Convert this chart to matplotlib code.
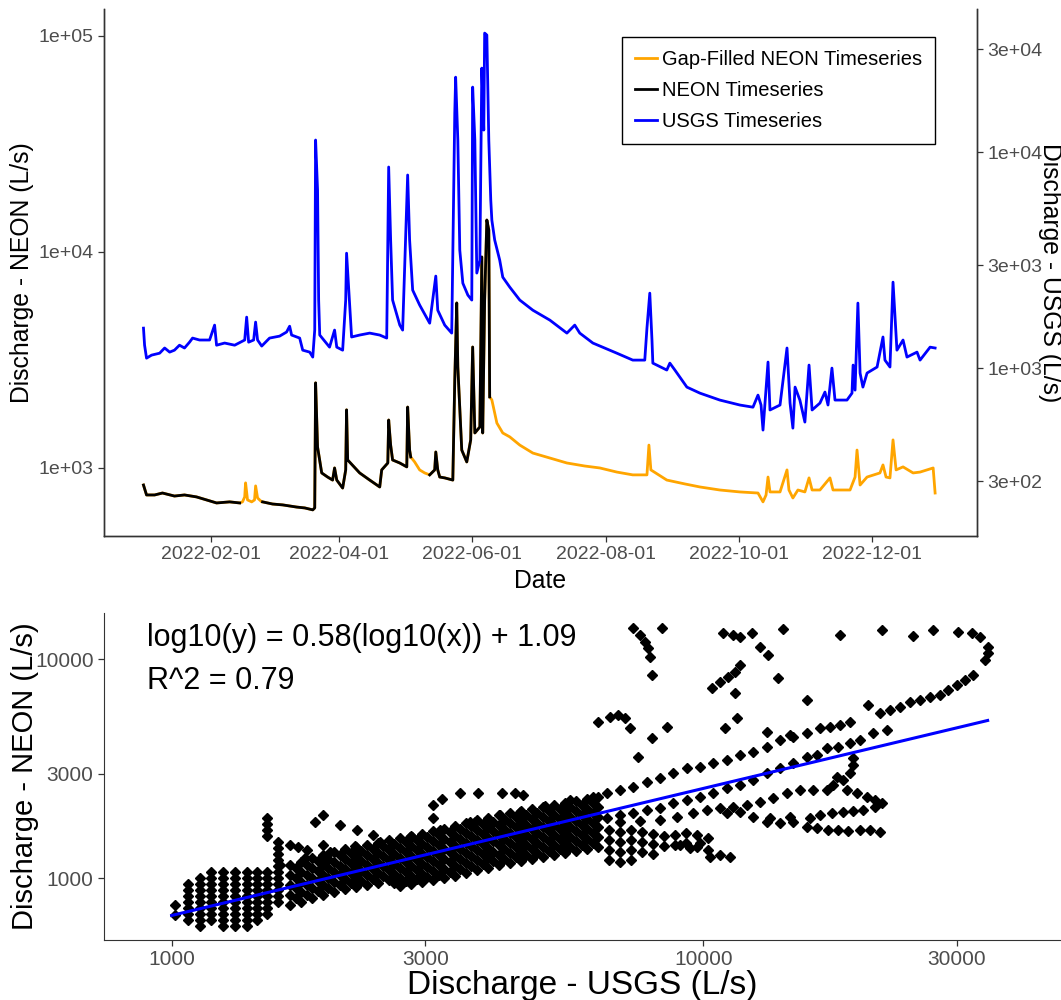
import numpy as np
import pandas as pd
import matplotlib
matplotlib.use("Agg")
import matplotlib.pyplot as plt
import matplotlib.dates as mdates
from matplotlib.ticker import FixedLocator, FixedFormatter, NullLocator

# ---- data (log10 of discharge, L/s) ----
# days since 2022-01-01
neon_day = [0.2, 1.6, 5.3, 8.9, 14.4, 19.0, 24.5, 29.1, 33.7, 39.7, 44.3,
            45.6, 46.6, 47.0, 47.9, 49.8, 51.1, 51.6, 52.5, 54.4,
            54.8, 59.4, 64.0, 70.4, 74.1, 77.8, 78.7, 79.1, 79.6, 80.0, 81.9, 84.6, 86.9, 87.8, 88.8, 91.5,
            92.9, 93.3, 93.8, 99.3, 103.9, 108.5, 109.4, 112.2, 112.6, 113.5, 114.4, 117.7, 120.9, 121.3,
            122.2, 122.7,
            124.5, 126.8, 129.1,
            131.4, 133.7, 134.2, 135.1, 136.0, 138.3, 142.0, 142.9, 143.8, 144.3, 146.1, 148.4, 150.2, 151.1,
            152.1, 154.4, 155.3, 155.7, 156.6, 157.6, 158.5, 158.9,
            159.9, 162.2, 164.9, 168.1, 172.7, 178.7, 186.5, 194.3, 202.5, 209.4, 217.2, 224.5, 231.0, 231.9,
            232.8, 240.1, 248.4, 255.3, 264.4, 273.6, 281.9, 284.2, 285.6, 286.5, 287.4, 292.0, 295.2, 296.1,
            297.9, 300.2, 303.4, 305.3, 306.7, 310.3, 314.9, 316.3, 324.1, 326.4, 327.3, 328.7, 331.9, 337.8,
            339.2, 340.6, 342.4, 343.8, 345.2, 348.4, 353.0, 356.2, 359.4, 362.2, 363.1]
neon_log10 = [2.921, 2.875, 2.875, 2.884, 2.870, 2.875, 2.866, 2.852, 2.838, 2.843, 2.838,
              2.843, 2.866, 2.931, 2.852, 2.843, 2.852, 2.917, 2.861, 2.843,
              2.843, 2.833, 2.829, 2.819, 2.815, 2.806, 2.815, 3.394, 3.222, 3.097, 2.977, 2.958, 2.944, 3.000,
              2.944, 2.907, 2.991, 3.269, 3.037, 2.977, 2.944, 2.912, 2.991, 3.023, 3.222, 3.106, 3.037, 3.023,
              3.005, 3.282, 3.083, 3.051,
              3.028, 2.991, 2.977,
              2.968, 2.991, 3.074, 2.991, 2.958, 2.954, 2.944, 3.407, 3.764, 3.468, 3.083, 3.028, 3.130, 3.560,
              3.162, 3.190, 3.977, 3.162, 3.778, 4.148, 4.102, 3.329,
              3.315, 3.208, 3.162, 3.144, 3.106, 3.069, 3.046, 3.023, 3.009, 3.000, 2.981, 2.968, 2.968, 3.106,
              2.991, 2.944, 2.926, 2.912, 2.898, 2.889, 2.884, 2.843, 2.875, 2.958, 2.889, 2.889, 2.991, 2.898,
              2.861, 2.898, 2.889, 2.954, 2.898, 2.898, 2.954, 2.898, 2.898, 2.958, 3.083, 2.921, 2.958, 2.977,
              3.014, 2.958, 2.954, 3.130, 2.991, 3.005, 2.977, 2.981, 2.991, 3.000, 2.884]
# periods where the NEON record was gap-filled (days since 2022-01-01)
gap_start = [45.0, 123.5, 159.5]
gap_end = [54.6, 130.0, 366.0]

usgs_day = [0.2, 0.7, 1.6, 3.9, 7.6, 9.9, 12.2, 14.4, 16.7, 19.0,
            21.3, 22.7, 25.9, 30.5, 32.8, 33.7, 37.4, 42.0, 46.6, 47.5,
            48.4, 50.7, 51.6, 52.5, 54.4, 58.0, 62.6, 65.8, 67.2, 68.1,
            71.8, 73.2, 76.4, 77.8, 78.7, 79.1, 80.0, 80.5, 81.0, 85.5,
            87.8, 88.8, 91.5, 92.9, 93.3, 94.3, 95.6, 99.3, 103.9, 108.5,
            111.7, 112.6, 113.5, 114.4, 117.7, 119.0, 121.3, 122.2, 123.6, 126.8,
            131.4, 134.2, 135.1, 138.3, 141.5, 142.9, 143.3, 144.3, 145.2, 146.6,
            148.9, 150.7, 151.1, 152.1, 153.0, 154.4, 155.3, 156.2, 156.6, 157.6,
            158.5, 159.4, 159.9, 161.2, 163.5, 164.9, 168.1, 172.7, 178.7, 186.5,
            194.3, 197.9, 200.2, 206.2, 217.2, 224.5, 230.0, 231.0, 232.3, 233.3,
            233.7, 240.1, 241.5, 243.8, 249.3, 255.3, 264.4, 273.6, 279.6, 281.9,
            283.3, 284.2, 286.5, 287.4, 292.0, 295.2, 296.6, 297.9, 298.9, 301.1,
            303.4, 305.3, 306.7, 310.3, 312.6, 314.0, 315.8, 317.2, 322.7, 325.0,
            325.5, 326.4, 327.7, 328.7, 330.0, 331.9, 336.5, 339.2, 340.1, 342.4,
            343.8, 345.6, 348.4, 350.2, 354.8, 356.2, 360.8, 363.1]
usgs_log10 = [3.185, 3.106, 3.046, 3.060, 3.069, 3.093, 3.074, 3.083, 3.106, 3.093,
              3.120, 3.139, 3.130, 3.130, 3.199, 3.106, 3.116, 3.106, 3.130, 3.236,
              3.120, 3.130, 3.213, 3.130, 3.102, 3.139, 3.148, 3.167, 3.194, 3.153,
              3.139, 3.083, 3.074, 3.051, 3.176, 4.056, 3.824, 3.315, 3.153, 3.097,
              3.176, 3.097, 3.083, 3.315, 3.532, 3.361, 3.144, 3.153, 3.162, 3.153,
              3.139, 3.931, 3.593, 3.315, 3.199, 3.176, 3.894, 3.593, 3.361, 3.292,
              3.208, 3.426, 3.268, 3.199, 3.162, 4.181, 4.347, 4.056, 3.546, 3.393,
              3.338, 3.315, 4.301, 4.056, 3.440, 3.500, 4.389, 4.102, 4.551, 4.542,
              4.056, 3.778, 3.685, 3.593, 3.500, 3.421, 3.375, 3.315, 3.268, 3.222,
              3.162, 3.199, 3.162, 3.116, 3.069, 3.037, 3.037, 3.185, 3.347, 3.130,
              3.023, 2.991, 3.023, 2.991, 2.912, 2.884, 2.852, 2.829, 2.819, 2.875,
              2.829, 2.713, 3.028, 2.806, 2.829, 3.093, 2.838, 2.722, 2.912, 2.852,
              2.750, 3.014, 2.806, 2.838, 2.889, 2.829, 3.000, 2.852, 2.852, 2.884,
              3.014, 2.898, 3.301, 2.977, 2.912, 2.977, 3.005, 3.144, 3.037, 3.005,
              3.398, 3.083, 3.130, 3.051, 3.074, 3.037, 3.097, 3.093]

# ---- paired observations for the scatter (log10 L/s) ----
# low-flow stacks: one USGS value per stack, NEON values in each stack
stack_usgs_log10 = [3.006, 3.031, 3.053, 3.074, 3.097, 3.119, 3.142, 3.161, 3.179, 3.200]
stack_neon_log10 = [
    [2.878, 2.833],
    [2.974, 2.947, 2.919, 2.892, 2.864, 2.837, 2.810],
    [3.001, 2.974, 2.947, 2.919, 2.892, 2.864, 2.837, 2.810, 2.783],
    [3.029, 3.001, 2.974, 2.947, 2.919, 2.892, 2.864, 2.837, 2.810],
    [3.029, 3.001, 2.974, 2.947, 2.919, 2.892, 2.864, 2.837, 2.810, 2.783],
    [3.029, 3.001, 2.974, 2.947, 2.919, 2.892, 2.864, 2.837, 2.810, 2.783],
    [3.029, 3.001, 2.974, 2.947, 2.919, 2.892, 2.864, 2.837, 2.810, 2.783],
    [3.029, 3.001, 2.974, 2.947, 2.919, 2.892, 2.864, 2.837, 2.810],
    [3.275, 3.248, 3.221, 3.193, 3.029, 3.001, 2.974, 2.947, 2.919, 2.892, 2.864, 2.837],
    [3.166, 3.138, 3.111, 3.084, 3.056, 3.029, 3.001, 2.974, 2.947, 2.919, 2.892],
]
# main band (rising limb), stacked the same way
band_usgs_log10 = [3.223, 3.243, 3.264, 3.285, 3.305, 3.326, 3.347, 3.367, 3.388, 3.409,
                   3.429, 3.450, 3.471, 3.492, 3.512, 3.533, 3.554, 3.574, 3.595, 3.616,
                   3.636, 3.657, 3.678, 3.699, 3.719, 3.740, 3.761, 3.781, 3.802,
                   3.823, 3.843, 3.864, 3.885, 3.905, 3.926, 3.947, 3.967, 3.988, 4.009,
                   3.233, 3.254, 3.275, 3.295, 3.316, 3.337, 3.357, 3.378, 3.398, 3.419,
                   3.440, 3.461, 3.481, 3.502, 3.523, 3.543, 3.564, 3.585, 3.605, 3.626,
                   3.647, 3.667, 3.688, 3.709, 3.730, 3.750, 3.771, 3.792]
band_neon_log10 = [
    [3.061, 3.015, 2.970, 2.924, 2.878], [3.074, 3.029, 2.983, 2.938, 2.892],
    [3.093, 3.047, 3.001, 2.956, 2.910], [3.106, 3.061, 3.015, 2.970, 2.924],
    [3.120, 3.074, 3.029, 2.983, 2.938], [3.134, 3.088, 3.043, 2.997, 2.951],
    [3.143, 3.097, 3.052, 3.006, 2.960], [3.152, 3.106, 3.061, 3.015, 2.970],
    [3.161, 3.116, 3.070, 3.024, 2.979], [3.175, 3.129, 3.084, 3.038, 2.992],
    [3.184, 3.138, 3.093, 3.047, 3.001, 2.965], [3.193, 3.147, 3.102, 3.056, 3.011, 2.974],
    [3.202, 3.157, 3.111, 3.065, 3.020, 2.983], [3.216, 3.170, 3.125, 3.079, 3.033, 2.992],
    [3.225, 3.180, 3.134, 3.088, 3.043, 3.001], [3.239, 3.193, 3.147, 3.102, 3.056, 3.011],
    [3.253, 3.207, 3.161, 3.116, 3.070, 3.024], [3.266, 3.221, 3.175, 3.129, 3.084, 3.038],
    [3.275, 3.230, 3.184, 3.138, 3.093, 3.047], [3.289, 3.243, 3.198, 3.152, 3.106, 3.061],
    [3.298, 3.253, 3.207, 3.161, 3.116, 3.070], [3.307, 3.262, 3.216, 3.170, 3.125, 3.079],
    [3.316, 3.271, 3.225, 3.180, 3.134, 3.088], [3.326, 3.280, 3.234, 3.189, 3.143, 3.097],
    [3.335, 3.289, 3.243, 3.198, 3.152, 3.106], [3.344, 3.298, 3.253, 3.207, 3.161, 3.116],
    [3.353, 3.307, 3.262, 3.216, 3.170, 3.125], [3.362, 3.316, 3.271, 3.225, 3.180, 3.134],
    [3.371, 3.326, 3.280, 3.234, 3.189, 3.143],
    [3.221, 3.175, 3.129, 3.084], [3.211, 3.166, 3.120, 3.074], [3.221, 3.175, 3.129, 3.084],
    [3.211, 3.166, 3.120], [3.202, 3.157, 3.111], [3.193, 3.147], [3.198, 3.152],
    [3.207, 3.161], [3.198, 3.143], [3.184, 3.129],
    [3.045, 3.000, 2.954, 2.908], [3.061, 3.015, 2.970, 2.924],
    [3.077, 3.031, 2.986, 2.940], [3.090, 3.045, 3.000, 2.954],
    [3.104, 3.058, 3.013, 2.967], [3.115, 3.070, 3.024, 2.979],
    [3.125, 3.079, 3.033, 2.988], [3.134, 3.088, 3.043, 2.997],
    [3.145, 3.100, 3.054, 3.008], [3.156, 3.111, 3.065, 3.020, 2.980],
    [3.166, 3.120, 3.075, 3.029, 2.988], [3.175, 3.129, 3.084, 3.038, 2.997],
    [3.186, 3.141, 3.095, 3.050, 3.007], [3.198, 3.152, 3.107, 3.061, 3.017],
    [3.209, 3.164, 3.118, 3.073, 3.028], [3.223, 3.177, 3.132, 3.086, 3.041],
    [3.237, 3.191, 3.145, 3.100, 3.054], [3.248, 3.202, 3.157, 3.111, 3.066],
    [3.259, 3.214, 3.168, 3.122, 3.077], [3.271, 3.225, 3.180, 3.134, 3.088],
    [3.280, 3.234, 3.189, 3.143, 3.097], [3.289, 3.243, 3.198, 3.152, 3.107],
    [3.298, 3.253, 3.207, 3.161, 3.116], [3.307, 3.262, 3.216, 3.171, 3.125],
    [3.317, 3.271, 3.225, 3.180, 3.134], [3.326, 3.280, 3.234, 3.189, 3.143],
    [3.335, 3.289, 3.244, 3.198, 3.152], [3.344, 3.298, 3.253, 3.207, 3.162],
]
# storm tracks and loops (paired values)
track_usgs_log10 = [
    3.204, 3.251, 3.298, 3.345, 3.392, 3.448, 3.505, 3.561, 3.618, 3.655,
    3.702, 3.749, 3.792, 3.843, 3.894, 3.943, 3.994, 4.044, 4.093, 4.144,
    4.195, 4.238, 4.276, 4.310, 4.332, 4.370, 4.407, 4.445, 4.460, 4.477,
    4.492, 4.507, 4.530, 4.535, 4.535, 4.520, 4.505, 4.479, 4.432, 4.394,
    4.336, 4.257, 4.150,
    3.819, 3.868, 3.918, 3.969, 4.018, 4.069, 4.120, 4.169, 4.219, 4.257,
    4.351, 4.389, 4.427,
    3.819, 3.868, 3.918, 3.969, 4.018, 4.069, 4.120, 4.169, 4.214, 4.253, 4.295, 4.345,
    3.843, 3.894, 3.943, 3.994, 4.044, 4.093, 4.144, 4.195, 4.232, 4.276, 4.319,
    3.843, 3.918, 3.981, 4.032, 4.082, 4.131, 4.182, 4.206,
    3.881, 3.950, 4.007, 4.056, 4.106, 4.157,
    4.044, 4.069, 4.093, 4.120, 4.144, 4.169, 4.195, 4.214, 4.234, 4.253,
    4.272, 4.295, 4.313, 4.332,
    4.125, 4.163, 4.200, 4.219, 4.242, 4.263, 4.282, 4.300, 4.323, 4.336,
    4.323, 4.308, 4.289, 4.270, 4.244, 4.232, 4.251, 4.263, 4.276, 4.282, 4.282,
    4.013, 4.032, 4.050, 3.956, 3.975, 3.994]
track_neon_log10 = [
    3.061, 3.093, 3.120, 3.147, 3.166, 3.189, 3.221, 3.257, 3.289, 3.303,
    3.330, 3.358, 3.371, 3.403, 3.440, 3.481, 3.508, 3.540, 3.577, 3.631,
    3.663, 3.691, 3.714, 3.791, 3.755, 3.783, 3.814, 3.837, 3.860, 3.883,
    3.906, 3.929, 3.997, 4.029, 4.056, 4.102, 4.120, 4.125, 4.134, 4.106,
    4.134, 4.111, 4.138,
    3.390, 3.417, 3.458, 3.504, 3.526, 3.563, 3.600, 3.645, 3.686, 3.700,
    3.769, 3.805, 3.828,
    3.275, 3.298, 3.321, 3.358, 3.390, 3.426, 3.481, 3.526, 3.563, 3.600, 3.631, 3.677,
    3.289, 3.312, 3.344, 3.371, 3.412, 3.449, 3.504, 3.554, 3.595, 3.618, 3.663,
    3.257, 3.266, 3.298, 3.321, 3.335, 3.367, 3.403, 3.403,
    3.262, 3.280, 3.312, 3.326, 3.348, 3.390,
    3.298, 3.303, 3.280, 3.257, 3.252, 3.257, 3.234, 3.230, 3.221, 3.221,
    3.216, 3.221, 3.221, 3.211,
    3.275, 3.280, 3.275, 3.289, 3.298, 3.303, 3.307, 3.312, 3.326, 3.344,
    3.358, 3.371, 3.390, 3.403, 3.426, 3.403, 3.463, 3.449, 3.481, 3.517, 3.549,
    3.097, 3.106, 3.097, 3.152, 3.138, 3.161]
# isolated points above the band
sparse_usgs_log10 = [
    3.223, 3.238, 3.255, 3.270, 3.285, 3.285, 3.317, 3.349, 3.379, 3.411, 3.452,
    3.492, 3.492, 3.508, 3.542, 3.576, 3.621, 3.646, 3.661, 3.571, 3.627,
    3.802, 3.824, 3.840, 3.853, 3.862, 3.877, 3.903, 3.931, 3.868, 3.881,
    3.890, 3.896, 3.900, 3.903, 3.922, 4.016, 4.032, 4.046, 4.059, 4.069,
    4.059, 4.063, 4.041, 4.037, 4.056, 4.069, 4.091, 4.106, 4.122, 4.141,
    4.195, 4.120, 4.163]
sparse_neon_log10 = [
    3.152, 3.143, 3.129, 3.257, 3.289, 3.152, 3.243, 3.221, 3.198, 3.143, 3.189,
    3.335, 3.275, 3.362, 3.390, 3.390, 3.390, 3.390, 3.381, 3.257, 3.266,
    3.714, 3.737, 3.746, 3.732, 3.686, 3.554, 3.641, 3.691, 4.143, 4.111,
    4.079, 4.051, 4.010, 3.929, 4.143, 3.869, 3.896, 3.920, 3.942, 3.974,
    3.846, 3.732, 3.686, 4.120, 4.111, 4.102, 4.120, 4.056, 4.019, 3.915,
    3.814, 3.668, 3.654]

fit_slope = 0.58
fit_intercept = 1.09
fit_r2 = 0.79
sec_factor = 2.9  # NEON axis = USGS axis * 2.9

plt.rcParams["font.family"] = ["Liberation Sans", "DejaVu Sans"]
tick_grey = "#4D4D4D"
line_grey = "#333333"

base = pd.Timestamp("2022-01-01")
neon_t = base + pd.to_timedelta(np.array(neon_day), unit="D")
usgs_t = base + pd.to_timedelta(np.array(usgs_day), unit="D")
neon = 10 ** np.array(neon_log10)
usgs = 10 ** np.array(usgs_log10)

d = np.array(neon_day)
filled = np.zeros(len(d), dtype=bool)
for s, e in zip(gap_start, gap_end):
    filled |= (d >= s) & (d <= e)
neon_measured = np.where(filled, np.nan, neon)

fig = plt.figure(figsize=(10.61, 10), dpi=100)

# ---------- top panel: timeseries ----------
ax = fig.add_axes([104 / 1061, 1 - 536 / 1000, 873 / 1061, 527 / 1000])
ax2 = ax.twinx()
l1, = ax.plot(neon_t, neon, color="orange", lw=2.0, label="Gap-Filled NEON Timeseries")
l2, = ax.plot(neon_t, neon_measured, color="black", lw=2.0, label="NEON Timeseries")
l3, = ax2.plot(usgs_t, usgs, color="blue", lw=2.0, label="USGS Timeseries")

ax.set_yscale("log")
ax2.set_yscale("log")
ylo, yhi = 10 ** 2.685, 10 ** 5.125
ax.set_ylim(ylo, yhi)
ax2.set_ylim(ylo / sec_factor, yhi / sec_factor)
ax.set_xlim(base - pd.Timedelta(days=17.9), base + pd.Timedelta(days=382.3))

ax.yaxis.set_major_locator(FixedLocator([1e3, 1e4, 1e5]))
ax.yaxis.set_major_formatter(FixedFormatter(["1e+03", "1e+04", "1e+05"]))
ax.yaxis.set_minor_locator(NullLocator())
ax2.yaxis.set_major_locator(FixedLocator([300, 1000, 3000, 10000, 30000]))
ax2.yaxis.set_major_formatter(FixedFormatter(["3e+02", "1e+03", "3e+03", "1e+04", "3e+04"]))
ax2.yaxis.set_minor_locator(NullLocator())

date_ticks = pd.to_datetime(["2022-02-01", "2022-04-01", "2022-06-01",
                             "2022-08-01", "2022-10-01", "2022-12-01"])
ax.xaxis.set_major_locator(FixedLocator(mdates.date2num(date_ticks)))
ax.xaxis.set_major_formatter(mdates.DateFormatter("%Y-%m-%d"))

for a in (ax, ax2):
    a.spines["top"].set_visible(False)
    for sp in a.spines.values():
        sp.set_color(line_grey)
        sp.set_linewidth(1.0)
    a.tick_params(colors=line_grey, labelcolor=tick_grey, labelsize=14, length=4, width=0.9)

ax.set_xlabel("Date", fontsize=17.8, va="center")
ax.xaxis.set_label_coords(0.5, -0.085)
ax.set_ylabel("Discharge - NEON (L/s)", fontsize=17.8, va="center")
ax.yaxis.set_label_coords(-0.094, 0.5)
ax2.set_ylabel("Discharge - USGS (L/s)", fontsize=17.8, rotation=270, va="center")
ax2.yaxis.set_label_coords(1.084, 0.5)

leg = ax2.legend([l1, l2, l3], [l1.get_label(), l2.get_label(), l3.get_label()],
                 loc="upper left", bbox_to_anchor=(622 / 1061, 1 - 37 / 1000),
                 bbox_transform=fig.transFigure, borderaxespad=0, fontsize=14.5,
                 frameon=True, fancybox=False, edgecolor="black", framealpha=1,
                 handlelength=1.1, handletextpad=0.25, labelspacing=0.6, borderpad=0.65)
leg.get_frame().set_linewidth(1.0)

# ---------- bottom panel: USGS vs NEON ----------
sx, sy = [], []
for xv, ys in zip(stack_usgs_log10 + band_usgs_log10, stack_neon_log10 + band_neon_log10):
    sx += [xv] * len(ys)
    sy += ys
sx += track_usgs_log10 + sparse_usgs_log10
sy += track_neon_log10 + sparse_neon_log10
px = 10 ** np.array(sx)
py = 10 ** np.array(sy)

bx = fig.add_axes([104 / 1061, 1 - 940 / 1000, 957 / 1061, 327 / 1000])
bx.plot(px, py, linestyle="none", marker="D", ms=5.0, color="black")

fx = np.array([1000, px.max()])
fy = 10 ** (fit_slope * np.log10(fx) + fit_intercept)
bx.plot(fx, fy, color="blue", lw=2.2)

bx.set_xscale("log")
bx.set_yscale("log")
bx.set_xlim(10 ** 2.8727, 10 ** 4.673)
bx.set_ylim(10 ** 2.718, 10 ** 4.211)
bx.xaxis.set_major_locator(FixedLocator([1000, 3000, 10000, 30000]))
bx.xaxis.set_major_formatter(FixedFormatter(["1000", "3000", "10000", "30000"]))
bx.xaxis.set_minor_locator(NullLocator())
bx.yaxis.set_major_locator(FixedLocator([1000, 3000, 10000]))
bx.yaxis.set_major_formatter(FixedFormatter(["1000", "3000", "10000"]))
bx.yaxis.set_minor_locator(NullLocator())
bx.spines["top"].set_visible(False)
bx.spines["right"].set_visible(False)
for sp in bx.spines.values():
    sp.set_color(line_grey)
bx.tick_params(colors=line_grey, labelcolor=tick_grey, labelsize=15, length=4, width=0.9)

bx.set_xlabel("Discharge - USGS (L/s)", fontsize=24, va="center")
bx.xaxis.set_label_coords(0.5, -0.138)
bx.set_ylabel("Discharge - NEON (L/s)", fontsize=21, va="center")
bx.yaxis.set_label_coords(-0.0825, 0.5)

bx.text(0.045, 0.924, f"log10(y) = {fit_slope}(log10(x)) + {fit_intercept}",
        transform=bx.transAxes, fontsize=22, va="center", ha="left")
bx.text(0.045, 0.792, f"R^2 = {fit_r2}", transform=bx.transAxes,
        fontsize=22, va="center", ha="left")

fig.savefig("out.png", dpi=100)
